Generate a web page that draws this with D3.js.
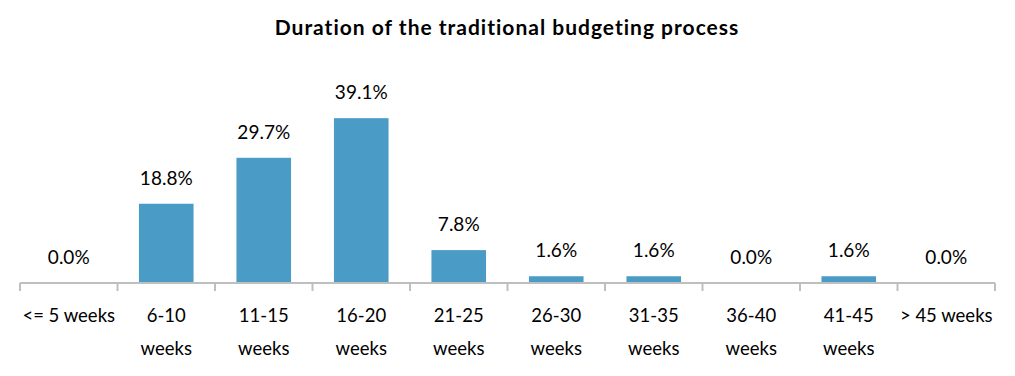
<!DOCTYPE html>
<html>
<head>
    <title>Duration of the traditional budgeting process</title>
    <script src="https://d3js.org/d3.v7.min.js"></script>
    <style>
        body { margin: 0; background: #fff; }
        svg { font-family: Lato, "Open Sans", sans-serif; }
        .title { font-size: 21px; font-weight: bold; letter-spacing: 1px; }
        .label { font-size: 19px; fill: #000; }
        .axis path, .axis line { stroke: #bfbfbf; stroke-width: 2; }
        .axis text { font-size: 18.5px; fill: #000; }
    </style>
</head>
<body>
    <svg width="1015" height="376"></svg>
    <script>
        // chart data
        var categories = ["<= 5 weeks", "6-10\nweeks", "11-15\nweeks", "16-20\nweeks", "21-25\nweeks",
                          "26-30\nweeks", "31-35\nweeks", "36-40\nweeks", "41-45\nweeks", "> 45 weeks"];
        var values = [0.0, 18.8, 29.7, 39.1, 7.8, 1.6, 1.6, 0.0, 1.6, 0.0];
        var title = "Duration of the traditional budgeting process";

        var svg = d3.select("svg"),
            margin = {top: 60, right: 20, bottom: 93, left: 20},
            width = +svg.attr("width") - margin.left - margin.right,
            height = +svg.attr("height") - margin.top - margin.bottom;

        var data = categories.map(function(c, i) { return {cat: c, value: values[i]}; });

        var x = d3.scaleBand().domain(categories).range([0, width]).paddingInner(0.44).paddingOuter(0.22);
        var y = d3.scaleLinear().domain([0, 52.9]).range([height, 0]);

        var g = svg.append("g").attr("transform", "translate(" + margin.left + "," + margin.top + ")");

        svg.append("text")
            .attr("class", "title")
            .attr("x", 507)
            .attr("y", 35)
            .attr("text-anchor", "middle")
            .text(title);

        g.selectAll(".bar")
            .data(data)
            .enter().append("rect")
            .attr("class", "bar")
            .attr("x", d => x(d.cat))
            .attr("y", d => y(d.value))
            .attr("width", x.bandwidth())
            .attr("height", d => height - y(d.value))
            .attr("fill", "#4a9cc6");

        g.selectAll(".label")
            .data(data)
            .enter().append("text")
            .attr("class", "label")
            .attr("x", d => x(d.cat) + x.bandwidth() / 2)
            .attr("y", d => y(d.value) - 19)
            .attr("text-anchor", "middle")
            .text(d => d.value.toFixed(1) + "%");

        // axis with ticks on category boundaries
        var bounds = d3.range(categories.length + 1).map(i => i * (width / categories.length));
        var axis = g.append("g").attr("class", "axis").attr("transform", "translate(0," + height + ")");
        axis.append("line").attr("x1", 0).attr("x2", width).attr("y1", 0).attr("y2", 0);
        axis.selectAll(".tk")
            .data(bounds)
            .enter().append("line")
            .attr("x1", d => d).attr("x2", d => d)
            .attr("y1", 0).attr("y2", 8);

        var ticks = axis.selectAll(".cat")
            .data(categories)
            .enter().append("text")
            .attr("x", d => x(d) + x.bandwidth() / 2)
            .attr("y", 39)
            .attr("text-anchor", "middle");
        ticks.selectAll("tspan")
            .data(d => d.split("\n"))
            .enter().append("tspan")
            .attr("x", function() { return this.parentNode.getAttribute("x"); })
            .attr("dy", (d, i) => i === 0 ? 0 : 33)
            .text(d => d);
    </script>
</body>
</html>
